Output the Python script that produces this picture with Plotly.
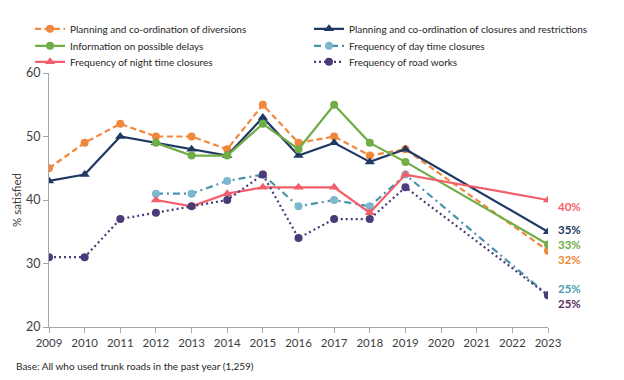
import plotly.graph_objects as go

years = list(range(2009, 2024))
diversions = [45, 49, 52, 50, 50, 48, 55, 49, 50, 47, 48, None, None, None, 32]
closures = [43, 44, 50, 49, 48, 47, 53, 47, 49, 46, 48, None, None, None, 35]
delays = [None, None, None, 49, 47, 47, 52, 48, 55, 49, 46, None, None, None, 33]
day_closures = [None, None, None, 41, 41, 43, 44, 39, 40, 39, 44, None, None, None, 25]
night_closures = [None, None, None, 40, 39, 41, 42, 42, 42, 38, 44, None, None, None, 40]
road_works = [31, 31, 37, 38, 39, 40, 44, 34, 37, 37, 42, None, None, None, 25]

names = [
    "Planning and co-ordination of diversions",
    "Planning and co-ordination of closures and restrictions",
    "Information on possible delays",
    "Frequency of day time closures",
    "Frequency of night time closures",
    "Frequency of road works",
]
note = "Base: All who used trunk roads in the past year (1,259)"

FONT = "Lato, 'Noto Sans', sans-serif"

series = [
    dict(y=diversions, name=names[0], line=dict(color="#F0883C", width=2.2, dash="6px,3.5px"),
         marker=dict(symbol="circle", size=8, color="#F0883C"),
         label_color="#F0883C", yshift=-9),
    dict(y=closures, name=names[1], line=dict(color="#1F3864", width=2.2),
         marker=dict(symbol="triangle-up", size=9, color="#1F3864"),
         label_color="#1F3864", yshift=2),
    dict(y=delays, name=names[2], line=dict(color="#70AD47", width=2.2),
         marker=dict(symbol="circle", size=8, color="#70AD47"),
         label_color="#70AD47", yshift=0),
    dict(y=day_closures, name=names[3], line=dict(color="#4A93AD", width=2.2, dash="7px,4px,2px,4px"),
         marker=dict(symbol="circle", size=8, color="#7DB6CF"),
         label_color="#4A9AB3", yshift=7),
    dict(y=night_closures, name=names[4], line=dict(color="#F25F6B", width=2.2),
         marker=dict(symbol="triangle-up", size=9, color="#F25F6B"),
         label_color="#F25F6B", yshift=-6),
    dict(y=road_works, name=names[5], line=dict(color="#4B3B78", width=2.2, dash="2px,3px"),
         marker=dict(symbol="circle", size=8, color="#4B3B78"),
         label_color="#5B2C5E", yshift=-8),
]

legend_ids = ["legend", "legend2", "legend3", "legend4", "legend5", "legend6"]
legend_x = [-0.038, 0.521]
legend_y = [1.231, 1.164, 1.101]

fig = go.Figure()
for i, s in enumerate(series):
    fig.add_trace(go.Scatter(
        x=years, y=s["y"], name=s["name"], mode="lines+markers",
        line=s["line"], marker=s["marker"], connectgaps=True, legend=legend_ids[i],
        showlegend=True,
    ))
    last = s["y"][-1]
    fig.add_annotation(
        x=years[-1], y=last, text=f"{last}%", showarrow=False,
        xanchor="left", yanchor="middle", xshift=8, yshift=s["yshift"],
        font=dict(family=FONT, size=11.5, color=s["label_color"], weight="bold"),
    )

fig.add_annotation(
    x=0, y=0, xref="paper", yref="paper", xanchor="left", yanchor="middle",
    text=note, showarrow=False, xshift=-35, yshift=-39,
    font=dict(family=FONT, size=10, color="#262626"),
)

legend_common = dict(
    orientation="v", bgcolor="rgba(0,0,0,0)", font=dict(family=FONT, size=10, color="#262626"),
    itemwidth=30, tracegroupgap=0, yanchor="top", xanchor="left", itemclick=False,
)
legend_layout = {}
for i, lid in enumerate(legend_ids):
    legend_layout[lid] = dict(x=legend_x[i % 2], y=legend_y[i // 2], **legend_common)

fig.update_layout(
    width=624, height=380,
    showlegend=True,
    margin=dict(l=49, r=76, t=73, b=53, autoexpand=False),
    paper_bgcolor="white", plot_bgcolor="white",
    font=dict(family=FONT, size=11, color="#404040"),
    xaxis=dict(
        range=[2009, 2023], tickmode="array", tickvals=years, ticktext=[str(y) for y in years],
        showline=True, linecolor="#A6A6A6", linewidth=1, ticks="outside", ticklen=5,
        tickcolor="#A6A6A6", showgrid=False, zeroline=False,
        tickfont=dict(family=FONT, size=11.5, color="#404040"),
    ),
    yaxis=dict(
        range=[20, 60], tickvals=[20, 30, 40, 50, 60], showline=True, linecolor="#A6A6A6",
        linewidth=1, ticks="outside", ticklen=5, tickcolor="#A6A6A6", showgrid=False,
        zeroline=False, tickfont=dict(family=FONT, size=12.5, color="#404040"),
        title=dict(text="% satisfied", font=dict(family=FONT, size=11.5, color="#404040"), standoff=1),
    ),
    **legend_layout,
)

fig.write_html("out.html", post_script="document.body.style.margin='0';",
               config={"displayModeBar": False})
